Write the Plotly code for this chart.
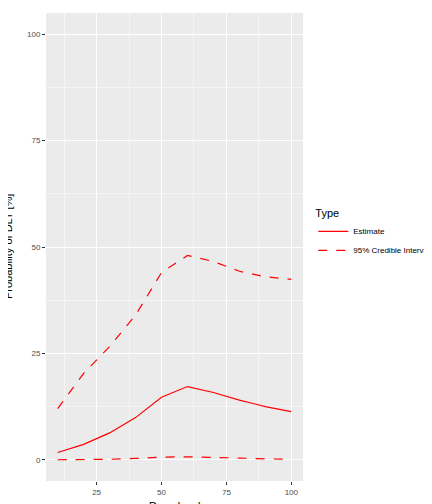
import plotly.graph_objects as go

dose = [10, 20, 30, 40, 50, 60, 70, 80, 90, 100]
estimate = [1.7, 3.6, 6.3, 9.9, 14.7, 17.2, 15.8, 14.0, 12.5, 11.3]
upper = [12.0, 20.3, 26.6, 34.0, 44.0, 48.0, 46.6, 44.3, 43.0, 42.4]
lower = [0.0, 0.0, 0.1, 0.3, 0.6, 0.7, 0.6, 0.4, 0.2, 0.1]

fig = go.Figure()
fig.add_trace(go.Scatter(x=dose, y=estimate, mode="lines", name="Estimate",
                         line=dict(color="red", width=1.2)))
fig.add_trace(go.Scatter(x=dose, y=upper, mode="lines", name="95% Credible Interval",
                         line=dict(color="red", width=1.2, dash="dash")))
fig.add_trace(go.Scatter(x=dose, y=lower, mode="lines", name="95% Credible Interval",
                         line=dict(color="red", width=1.2, dash="dash"),
                         showlegend=False))

axis_common = dict(showgrid=True, gridcolor="white", gridwidth=1, zeroline=False,
                   ticks="outside", ticklen=3, tickcolor="#333333", automargin=False,
                   tickfont=dict(size=8, color="#4d4d4d"), showline=False)
fig.update_layout(
    width=432, height=504,
    margin=dict(l=38, r=134, t=5, b=31),
    paper_bgcolor="white", plot_bgcolor="#ebebeb",
    font=dict(family="Liberation Sans, Arial, sans-serif", color="black"),
    xaxis=dict(range=[5.5, 104.5], tickvals=[25, 50, 75, 100],
               minor=dict(tickvals=[12.5, 37.5, 62.5, 87.5], showgrid=True,
                          gridcolor="#f5f5f5", gridwidth=0.5, ticks=""),
               **axis_common),
    yaxis=dict(range=[-5, 105], tickvals=[0, 25, 50, 75, 100],
               minor=dict(tickvals=[12.5, 37.5, 62.5, 87.5], showgrid=True,
                          gridcolor="#f5f5f5", gridwidth=0.5, ticks=""),
               **axis_common),
    legend=dict(x=1.04, y=0.595, xanchor="left", yanchor="top",
                title=dict(text="Type", font=dict(size=11)), tracegroupgap=0,
                font=dict(size=8), bgcolor="rgba(0,0,0,0)", itemwidth=30),
    annotations=[
        dict(text="Dose level", xref="paper", yref="paper", x=0.5, y=0,
             yshift=-17, xanchor="center", yanchor="top", showarrow=False,
             font=dict(size=11)),
        dict(text="Probability of DLT [%]", xref="paper", yref="paper", x=0, y=0.5,
             xshift=-30, xanchor="right", yanchor="middle", textangle=-90,
             showarrow=False, font=dict(size=11)),
    ],
)
fig.write_html("out.html")
